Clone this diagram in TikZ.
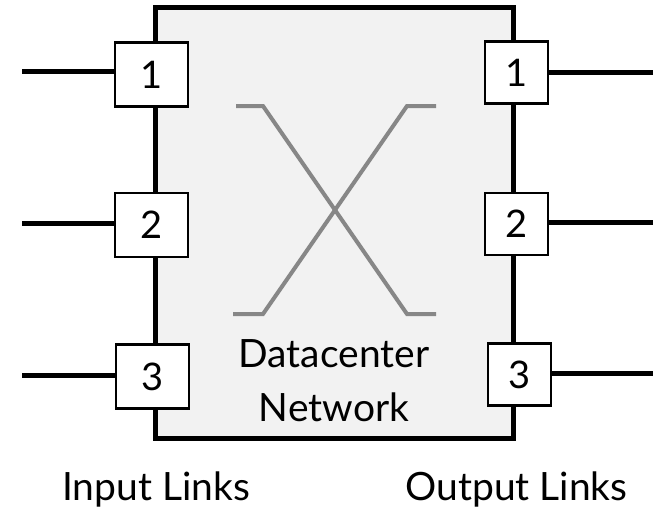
\documentclass[tikz,border=0pt]{standalone}
\usepackage{fontspec}
\setmainfont{Lato}
\begin{document}
\begin{tikzpicture}[x=1pt,y=-1pt,
  netbox/.style={draw=black,line width=5pt,fill=gray!10},
  portL/.style={draw=black,fill=white,line width=2.5pt,inner sep=0pt,outer sep=0pt,minimum width=73pt,minimum height=64pt,font=\fontsize{38}{42}\selectfont},
  portR/.style={draw=black,fill=white,line width=2.5pt,inner sep=0pt,outer sep=0pt,minimum width=63pt,minimum height=62pt,font=\fontsize{38}{42}\selectfont},
  link/.style={draw=black,line width=5pt},
  cross/.style={draw=black!47,line width=4pt,line join=miter},
  label/.style={font=\fontsize{39}{44}\selectfont,anchor=base,inner sep=0pt}]
\useasboundingbox (0,0) rectangle (653,512);
\draw[netbox] (155,7.5) rectangle (513,438.5);
% crossing
\draw[cross] (236,106) -- (263,106) -- (407,314) -- (436,314);
\draw[cross] (233,314) -- (263,314) -- (407,106) -- (436,106);
% ports
\node[portL] (i1) at (151.5,74.5) {1};
\node[portL] (i2) at (151.5,225) {2};
\node[portL] (i3) at (152.5,376.5) {3};
\node[portR] (o1) at (516.5,72.5) {1};
\node[portR] (o2) at (516.5,224) {2};
\node[portR] (o3) at (519.5,374.5) {3};
% links
\coordinate (a1) at (22,71);
\coordinate (a2) at (22,223);
\coordinate (a3) at (22,375);
\coordinate (b1) at (653,72);
\coordinate (b2) at (653,222);
\coordinate (b3) at (653,373);
\draw[link] (a1) -- (i1.west |- a1);
\draw[link] (a2) -- (i2.west |- a2);
\draw[link] (a3) -- (i3.west |- a3);
\draw[link] (o1.east |- b1) -- (b1);
\draw[link] (o2.east |- b2) -- (b2);
\draw[link] (o3.east |- b3) -- (b3);
% labels
\node[label] (t1) at (334,367) {Datacenter};
\node[label] (t2) at (334,421) {Network};
\node[label] (t3) at (156,500) {Input Links};
\node[label] (t4) at (516.5,500) {Output Links};
\end{tikzpicture}
\end{document}
